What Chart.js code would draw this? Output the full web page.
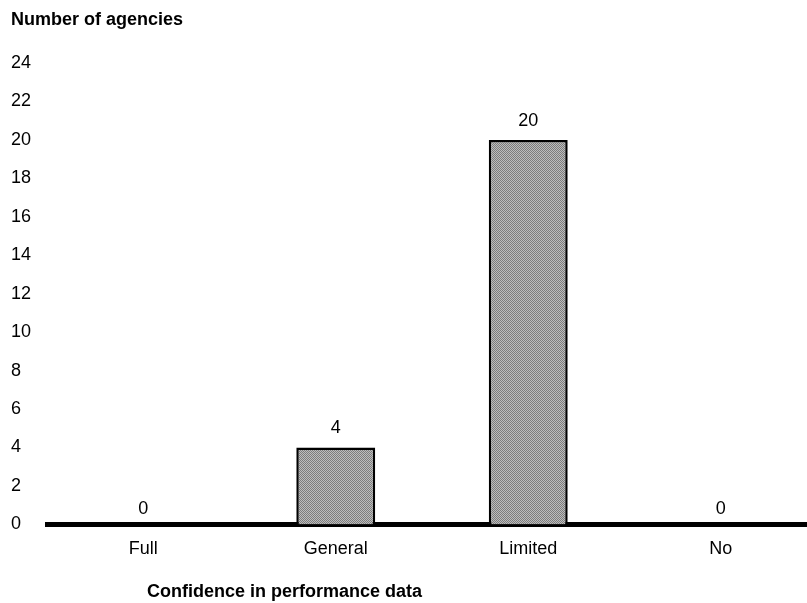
<!DOCTYPE html>
<html>
<head>
<meta charset="utf-8">
<script src="https://cdn.jsdelivr.net/npm/chart.js@4"></script>
<style>
  html, body { margin: 0; padding: 0; background: #fff; overflow: hidden; }
  #wrap { width: 817px; height: 603px; }
</style>
</head>
<body>
<div id="wrap"><canvas id="grafico" width="817" height="603"></canvas></div>
<script>
// Confidence in performance data – number of agencies
const categorias = ['Full', 'General', 'Limited', 'No'];
const agencias = [0, 4, 20, 0];
const ticksY = [0, 2, 4, 6, 8, 10, 12, 14, 16, 18, 20, 22, 24];

const fonte = '"Liberation Sans", Arial, Helvetica, sans-serif';

// halftone-like fill for the bars
function padrao() {
  const c = document.createElement('canvas');
  c.width = 2; c.height = 2;
  const g = c.getContext('2d');
  g.fillStyle = '#bdbdbd'; g.fillRect(0, 0, 2, 2);
  g.fillStyle = '#7c7c7c'; g.fillRect(0, 0, 1, 1); g.fillRect(1, 1, 1, 1);
  return g.createPattern(c, 'repeat');
}

// value labels and axis titles
const textos = {
  id: 'textos',
  afterDatasetsDraw(chart) {
    const { ctx, scales } = chart;
    ctx.save();
    ctx.fillStyle = '#000';
    ctx.font = '18px ' + fonte;
    ctx.textAlign = 'center';
    ctx.textBaseline = 'bottom';
    agencias.forEach((v, i) => {
      const x = scales.x.getPixelForValue(i);
      const y = scales.y.getPixelForValue(v);
      ctx.fillText(String(v), x, y - (v === 0 ? 6 : 10));
    });
    ctx.font = 'bold 18px ' + fonte;
    ctx.textAlign = 'left';
    ctx.textBaseline = 'middle';
    ctx.fillText('Number of agencies', 11, 20);
    ctx.fillText('Confidence in performance data', 147, 592);
    ctx.restore();
  }
};

const ctx = document.getElementById('grafico').getContext('2d');
new Chart(ctx, {
  type: 'bar',
  data: {
    labels: categorias,
    datasets: [{
      data: agencias,
      backgroundColor: padrao(),
      borderColor: '#000',
      borderWidth: 2.5,
      borderSkipped: 'bottom',
      categoryPercentage: 1,
      barPercentage: 0.41
    }]
  },
  options: {
    responsive: false,
    animation: false,
    layout: { padding: { left: 11, top: 63, right: 0, bottom: 29 } },
    plugins: {
      legend: { display: false },
      tooltip: { enabled: false }
    },
    scales: {
      x: {
        grid: { display: false, drawTicks: false },
        border: { display: true, color: '#000', width: 5 },
        ticks: { color: '#000', font: { family: fonte, size: 18 }, padding: 14 }
      },
      y: {
        min: 0,
        max: 24,
        afterBuildTicks: s => { s.ticks = ticksY.map(v => ({ value: v })); },
        afterFit: s => { s.width = 36; },
        grid: { display: false, drawTicks: false },
        border: { display: false },
        ticks: {
          color: '#000',
          crossAlign: 'far',
          padding: 0,
          font: { family: fonte, size: 18 }
        }
      }
    }
  },
  plugins: [textos]
});
</script>
</body>
</html>
